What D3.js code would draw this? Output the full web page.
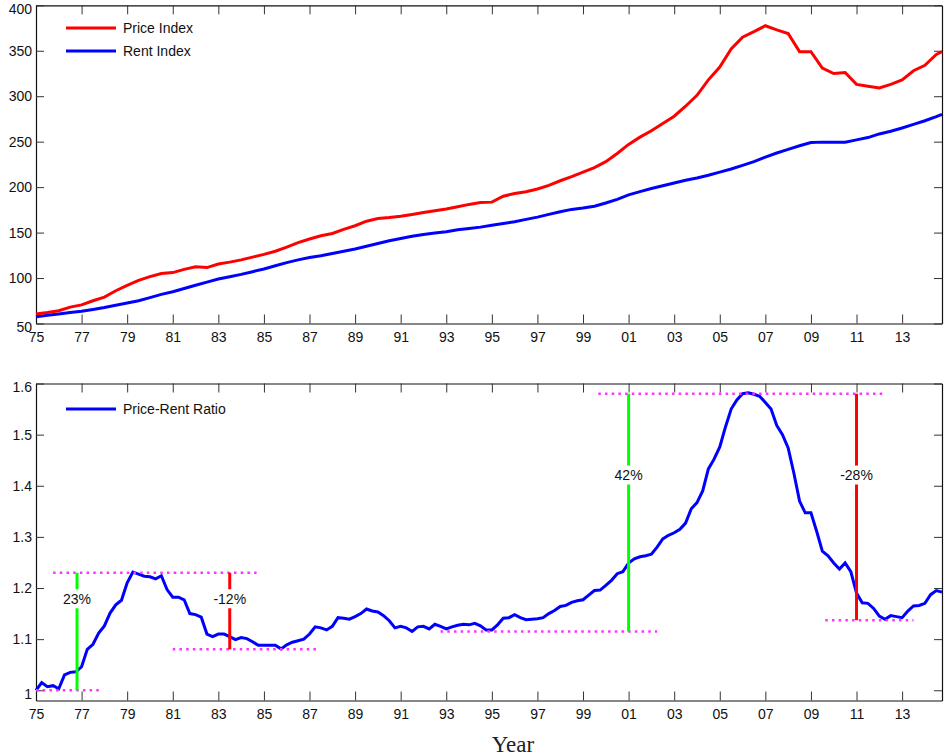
<!DOCTYPE html>
<html>
<head>
<meta charset="utf-8">
<script src="https://cdn.jsdelivr.net/npm/d3@7"></script>
<style>
  body { margin: 0; background: #fff; }
  #chart text { font-family: "Liberation Sans", Arial, sans-serif; fill: #111; }
</style>
</head>
<body>
<div id="chart"></div>
<script>
// semi-annual index readings, 1975 .. 2014.5 plus the last quarter
const indexYears = d3.range(80).map((i) => 1975 + i / 2).concat([2014.75])

const priceIndex = [
  60.5, 62, 64, 68, 70.5, 75, 79, 86, 92, 97.5,
  101.5, 105, 106, 109.5, 112.5, 111.5, 115.5, 117.5, 120, 123,
  126, 129.5, 134, 139, 143, 146.5, 149, 153.5, 157.5, 162.5,
  165.5, 166.5, 168, 170, 172, 174, 176, 178.5, 181, 183,
  183.5, 190, 193, 195, 198, 202, 207, 211.5, 216.5, 221.5,
  228, 237, 247, 255, 262, 270, 278, 289, 301, 318,
  332, 352, 365, 371, 377.5, 373, 369, 349, 349, 331,
  325, 326, 313, 311, 309, 313, 318, 328, 334, 346,
  349,
]

const rentIndex = [
  57.5, 59, 60.5, 62, 63.5, 65.5, 67.5, 70, 72.5, 75,
  78.5, 82, 85, 88.5, 92, 95.5, 99, 101.5, 104, 107,
  110, 113.5, 117, 120, 122.5, 124.5, 127, 129.5, 132, 135,
  138, 141, 143.5, 146, 148, 149.5, 151, 153, 154.5, 156,
  158, 160, 162, 164.5, 167, 170, 173, 175.5, 177, 179,
  182.5, 186.5, 191.5, 195, 198.5, 201.5, 204.5, 207.5, 210, 213,
  216.5, 220, 224, 228, 233, 237.5, 241.5, 245.5, 249, 249.5,
  249.5, 249.5, 252, 254.5, 258.5, 261.5, 265, 269, 273, 277.5,
  280,
]

// quarterly price-rent ratio, 1975Q1 .. 2014Q4
const ratioYears = d3.range(160).map((i) => 1975 + i / 4)
const priceRentRatio = [
  1.000, 1.015, 1.007, 1.009, 1.003, 1.030, 1.035, 1.036,
  1.046, 1.080, 1.090, 1.112, 1.126, 1.151, 1.167, 1.176,
  1.210, 1.231, 1.227, 1.223, 1.222, 1.218, 1.224, 1.197,
  1.182, 1.182, 1.177, 1.150, 1.148, 1.143, 1.110, 1.105,
  1.110, 1.110, 1.105, 1.099, 1.103, 1.101, 1.095, 1.088,
  1.088, 1.088, 1.088, 1.081, 1.089, 1.094, 1.097, 1.100,
  1.110, 1.124, 1.122, 1.118, 1.125, 1.142, 1.141, 1.139,
  1.144, 1.150, 1.159, 1.155, 1.153, 1.146, 1.136, 1.122,
  1.125, 1.122, 1.115, 1.124, 1.125, 1.120, 1.129, 1.125,
  1.120, 1.124, 1.127, 1.129, 1.128, 1.131, 1.126, 1.118,
  1.118, 1.128, 1.141, 1.142, 1.148, 1.142, 1.138, 1.139,
  1.140, 1.142, 1.150, 1.156, 1.164, 1.166, 1.172, 1.175,
  1.177, 1.186, 1.195, 1.196, 1.205, 1.215, 1.228, 1.232,
  1.249, 1.257, 1.261, 1.263, 1.266, 1.280, 1.296, 1.303,
  1.308, 1.315, 1.327, 1.355, 1.367, 1.390, 1.433, 1.452,
  1.476, 1.515, 1.550, 1.568, 1.580, 1.582, 1.579, 1.575,
  1.563, 1.550, 1.518, 1.500, 1.474, 1.425, 1.370, 1.347,
  1.347, 1.311, 1.272, 1.263, 1.249, 1.237, 1.249, 1.232,
  1.190, 1.171, 1.170, 1.160, 1.145, 1.139, 1.146, 1.144,
  1.142, 1.155, 1.165, 1.166, 1.170, 1.187, 1.195, 1.192,
]

// tick labels
const xTickYears = d3.range(1975, 2015, 2)
const topTicks = [50, 100, 150, 200, 250, 300, 350, 400]
const bottomTicks = [1, 1.1, 1.2, 1.3, 1.4, 1.5, 1.6]

// swing annotations (bottom panel)
const swingYears = [1976.8, 1983.5, 2001, 2011]
const swingFrom = [1.0, 1.23, 1.115, 1.58]
const swingTo = [1.23, 1.08, 1.58, 1.137]
const swingLabels = ['23%', '-12%', '42%', '-28%']
const swingLabelAt = [1.179, 1.179, 1.421, 1.421]
const swingColors = ['#00ff00', '#ff0000', '#00ff00', '#ff0000']

// dotted reference levels
const levelValues = [1.0, 1.23, 1.08, 1.115, 1.58, 1.137]
const levelStart = [1975.0, 1975.75, 1981.0, 1992.75, 1999.67, 2009.63]
const levelEnd = [1977.85, 1984.83, 1987.3, 2002.25, 2012.27, 2013.5]

const width = 945
const height = 755
const left = 36
const right = 942

const svg = d3.select('#chart')
  .append('svg')
  .attr('width', width)
  .attr('height', height)

const xScale = d3.scaleLinear()
  .domain([1975, 2014.75])
  .range([left, right])

const yTop = d3.scaleLinear().domain([50, 400]).range([323.5, 5.3])
const yBottom = d3.scaleLinear().domain([0.98, 1.6]).range([700.5, 383.5])

const yearFmt = (d) => String(d % 100).padStart(2, '0')

function drawFrame(yScale, ticks, fmt) {
  const [y0, y1] = yScale.range()
  const g = svg.append('g')

  g.append('g')
    .attr('transform', `translate(0,${y0})`)
    .call(d3.axisBottom(xScale).tickValues(xTickYears).tickFormat(yearFmt)
      .tickSizeInner(-9).tickSizeOuter(0).tickPadding(9))
  g.append('g')
    .attr('transform', `translate(0,${y1})`)
    .call(d3.axisTop(xScale).tickValues(xTickYears).tickFormat('')
      .tickSizeInner(-9).tickSizeOuter(0))
  const yAxis = g.append('g')
    .attr('transform', `translate(${left},0)`)
    .call(d3.axisLeft(yScale).tickValues(ticks).tickFormat(fmt)
      .tickSizeInner(-8).tickSizeOuter(0).tickPadding(4))
  g.append('g')
    .attr('transform', `translate(${right},0)`)
    .call(d3.axisRight(yScale).tickValues(ticks).tickFormat('')
      .tickSizeInner(-8).tickSizeOuter(0))

  g.selectAll('.domain').attr('stroke', '#111').attr('stroke-width', 1.2)
  g.selectAll('.tick line').attr('stroke', '#333')
  g.selectAll('.tick text').style('font-size', '14px')

  // end labels sit a little inside the box, as in the original
  const lo = ticks[0]
  const hi = ticks[ticks.length - 1]
  yAxis.selectAll('.tick text')
    .attr('y', (d) => d === hi ? 4 : d === lo ? 3.5 : 0)
  return g
}

function legend(y, label, color) {
  svg.append('line')
    .attr('x1', 66).attr('x2', 116)
    .attr('y1', y).attr('y2', y)
    .attr('stroke', color)
    .attr('stroke-width', 3)
  svg.append('text')
    .attr('x', 123).attr('y', y)
    .attr('dy', '0.35em')
    .style('font-size', '14px')
    .text(label)
}

// ---- top panel: price and rent index
drawFrame(yTop, topTicks, d3.format('d'))

const topLine = d3.line()
  .x((d, i) => xScale(indexYears[i]))
  .y((d) => yTop(d))

svg.append('path')
  .datum(rentIndex)
  .attr('fill', 'none')
  .attr('stroke', '#0000ff')
  .attr('stroke-width', 3)
  .attr('d', topLine)

svg.append('path')
  .datum(priceIndex)
  .attr('fill', 'none')
  .attr('stroke', '#ff0000')
  .attr('stroke-width', 3)
  .attr('d', topLine)

legend(28, 'Price Index', '#ff0000')
legend(51, 'Rent Index', '#0000ff')

// ---- bottom panel: price-rent ratio
drawFrame(yBottom, bottomTicks, (d) => d === 1 ? '1' : d3.format('.1f')(d))

svg.append('path')
  .datum(priceRentRatio)
  .attr('fill', 'none')
  .attr('stroke', '#0000ff')
  .attr('stroke-width', 3)
  .attr('d', d3.line()
    .x((d, i) => xScale(ratioYears[i]))
    .y((d) => yBottom(d)))

svg.append('g')
  .selectAll('line')
  .data(levelValues)
  .join('line')
  .attr('x1', (d, i) => xScale(levelStart[i]))
  .attr('x2', (d, i) => xScale(levelEnd[i]))
  .attr('y1', (d) => yBottom(d))
  .attr('y2', (d) => yBottom(d))
  .attr('stroke', '#ff33ff')
  .attr('stroke-width', 2.5)
  .attr('stroke-dasharray', '2.5,4.2')

const swings = svg.append('g')
  .selectAll('g')
  .data(swingYears)
  .join('g')

swings.append('line')
  .attr('x1', (d) => xScale(d))
  .attr('x2', (d) => xScale(d))
  .attr('y1', (d, i) => yBottom(swingFrom[i]))
  .attr('y2', (d, i) => yBottom(swingTo[i]))
  .attr('stroke', (d, i) => swingColors[i])
  .attr('stroke-width', 3)

swings.append('rect')
  .attr('x', (d) => xScale(d) - 22)
  .attr('y', (d, i) => yBottom(swingLabelAt[i]) - 9.5)
  .attr('width', 44)
  .attr('height', 19)
  .attr('fill', '#fff')

swings.append('text')
  .attr('x', (d) => xScale(d))
  .attr('y', (d, i) => yBottom(swingLabelAt[i]))
  .attr('dy', '0.35em')
  .attr('text-anchor', 'middle')
  .style('font-size', '14px')
  .text((d, i) => swingLabels[i])

legend(409, 'Price-Rent Ratio', '#0000ff')

svg.append('text')
  .attr('x', 513)
  .attr('y', 751.5)
  .attr('text-anchor', 'middle')
  .style('font-family', '"Liberation Serif", "DejaVu Serif", serif')
  .style('font-size', '23px')
  .style('fill', '#222')
  .text('Year')
</script>
</body>
</html>
